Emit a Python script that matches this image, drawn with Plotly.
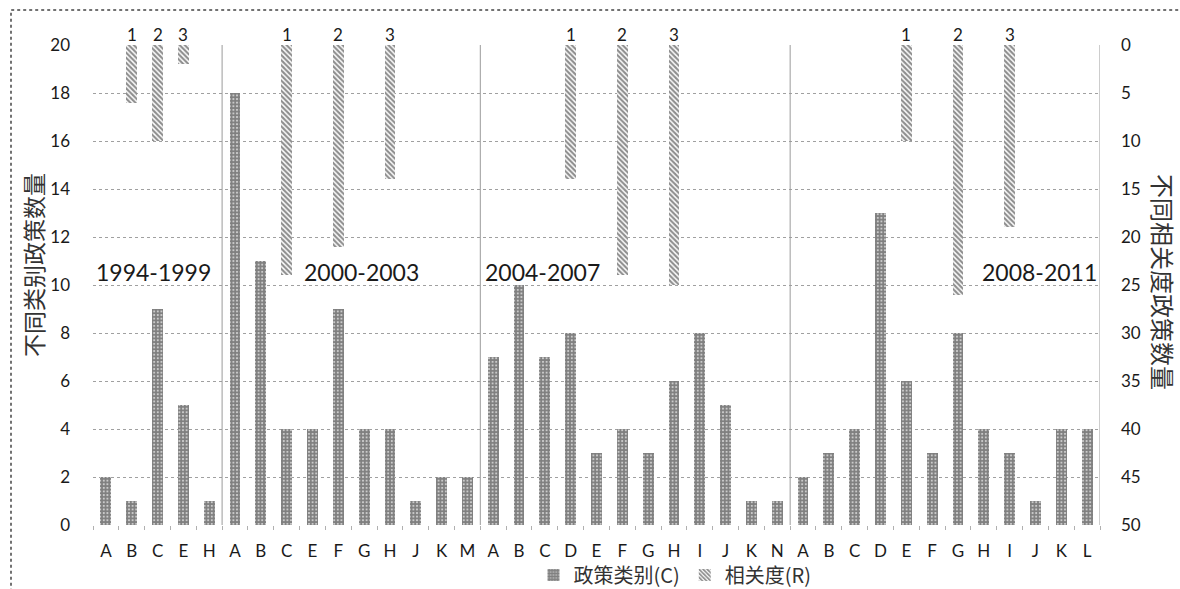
import plotly.graph_objects as go

# ---------------- data ----------------
periods = ["1994-1999", "2000-2003", "2004-2007", "2008-2011"]
period_cats = [
    ["A", "B", "C", "E", "H"],
    ["A", "B", "C", "E", "F", "G", "H", "J", "K", "M"],
    ["A", "B", "C", "D", "E", "F", "G", "H", "I", "J", "K", "N"],
    ["A", "B", "C", "D", "E", "F", "G", "H", "I", "J", "K", "L"],
]
period_counts = [
    [2, 1, 9, 5, 1],
    [18, 11, 4, 4, 9, 4, 4, 1, 2, 2],
    [7, 10, 7, 8, 3, 4, 3, 6, 8, 5, 1, 1],
    [2, 3, 4, 13, 6, 3, 8, 4, 3, 1, 4, 4],
]
# relevance (R) bars: period, category where drawn, label, value
rel_period = ["1994-1999"] * 3 + ["2000-2003"] * 3 + ["2004-2007"] * 3 + ["2008-2011"] * 3
rel_cat = ["B", "C", "E", "C", "F", "H", "D", "F", "H", "E", "G", "I"]
rel_label = ["1", "2", "3"] * 4
rel_value = [6, 10, 2, 24, 21, 14, 14, 24, 25, 10, 26, 19]

legend_c = "政策类别(C)"
legend_r = "相关度(R)"
left_title = "不同类别政策数量"
right_title = "不同相关度政策数量"

# ---------------- build category positions ----------------
pos = {}
xs, ys, letters = [], [], []
starts = []
i = 0
for p, cats, vals in zip(periods, period_cats, period_counts):
    starts.append(i)
    for c, v in zip(cats, vals):
        pos[(p, c)] = i
        xs.append(i)
        ys.append(v)
        letters.append(c)
        i += 1
N = i
rx = [pos[(p, c)] for p, c in zip(rel_period, rel_cat)]

W, H = 1180, 589
ML, MR, MT, MB = 93, 80, 45, 64
PW, PH = W - ML - MR, H - MT - MB

TXT = "#1a1a1a"
GRID = "#a0a0a0"
LATIN = "Lato, 'Open Sans', sans-serif"
CJK = "'Noto Sans CJK SC', sans-serif"

fig = go.Figure()
fig.add_trace(go.Bar(
    x=xs, y=ys, name=legend_c, width=0.42,
    marker=dict(color="white", line=dict(width=0),
                pattern=dict(shape=".", fgcolor="#000000", bgcolor="white",
                             size=3.6, solidity=0.8)),
    yaxis="y",
))
fig.add_trace(go.Bar(
    x=rx, y=rel_value, base=[0] * len(rel_value), name=legend_r, width=0.42,
    marker=dict(color="white", line=dict(width=0),
                pattern=dict(shape="\\", fgcolor="#1e1e1e", bgcolor="white",
                             size=3.6, solidity=0.6)),
    yaxis="y2",
))

shapes = []
# period separators + right plot edge
for b in starts[1:] + [N]:
    shapes.append(dict(type="line", xref="x", yref="paper", x0=b - 0.5, x1=b - 0.5,
                       y0=0, y1=1, line=dict(color="#9a9a9a", width=1)))
# outer dotted frame (only the top and left edges fall inside the picture)
shapes.append(dict(type="rect", xref="paper", yref="paper",
                   x0=(11 - ML) / PW, x1=1.3,
                   y0=-0.3, y1=(H - MB - 10) / PH,
                   line=dict(color="#444444", width=1.5, dash="dot"), layer="below"))

annotations = []
for x, lab in zip(rx, rel_label):
    annotations.append(dict(x=x, y=1, xref="x", yref="paper", text=lab, showarrow=False,
                            yanchor="bottom", yshift=-2, font=dict(family=LATIN, size=17, color=TXT)))
# period labels
period_anchor = [(starts[0] - 0.45, "left"), (starts[1] + 2.6, "left"),
                 (starts[2] - 0.4, "left"), (N - 0.55, "right")]
for p, (ax, xa) in zip(periods, period_anchor):
    annotations.append(dict(x=ax, y=10.55, xref="x", yref="y", text=p, showarrow=False,
                            xanchor=xa, yanchor="middle",
                            font=dict(family=LATIN, size=23, color=TXT)))
annotations.append(dict(x=(33 - ML) / PW, y=(H - MB - 265) / PH, xref="paper", yref="paper",
                        text=left_title, textangle=-90, showarrow=False,
                        xanchor="center", yanchor="middle",
                        font=dict(family=CJK, size=23, color="#333333")))
annotations.append(dict(x=(1164 - ML) / PW, y=(H - MB - 282) / PH, xref="paper", yref="paper",
                        text=right_title, textangle=90, showarrow=False,
                        xanchor="center", yanchor="middle",
                        font=dict(family=CJK, size=24, color="#333333")))

fig.update_layout(
    width=W, height=H,
    margin=dict(l=ML, r=MR, t=MT, b=MB, pad=0, autoexpand=False),
    paper_bgcolor="white", plot_bgcolor="white",
    barmode="overlay",
    bargap=0,
    shapes=shapes,
    annotations=annotations,
    showlegend=True,
    legend=dict(orientation="h", x=(675 - ML) / PW, y=-(575 - (H - MB)) / PH,
                xanchor="center", yanchor="middle",
                font=dict(family=CJK, size=20, color="#333333"),
                itemwidth=30, bgcolor="rgba(0,0,0,0)"),
    xaxis=dict(
        range=[-0.5, N - 0.5], tickmode="array", tickvals=xs, ticktext=letters,
        tickfont=dict(family=LATIN, size=17, color=TXT),
        showgrid=False, zeroline=False, showline=False, ticks="",
        ticklabelstandoff=14, automargin=False,
        minor=dict(tickmode="array", tickvals=[k - 0.5 for k in range(N + 1)],
                   ticks="outside", ticklen=4, tickcolor="#b0b0b0", showgrid=False),
    ),
    yaxis=dict(
        range=[0, 20], dtick=2, tick0=0,
        tickfont=dict(family=LATIN, size=17, color=TXT),
        showgrid=True, gridcolor=GRID, griddash="dot", gridwidth=1,
        zeroline=False, showline=False, ticks="",
        ticklabelstandoff=22, automargin=False,
    ),
    yaxis2=dict(
        range=[50, 0], dtick=5, tick0=0, overlaying="y", side="right",
        tickfont=dict(family=LATIN, size=17, color=TXT),
        showgrid=False, zeroline=False, showline=False, ticks="",
        ticklabelstandoff=20, automargin=False,
    ),
)

fig.write_html("out.html", config={"displayModeBar": False},
               post_script="document.body.style.margin='0px';document.body.style.overflow='hidden';")
